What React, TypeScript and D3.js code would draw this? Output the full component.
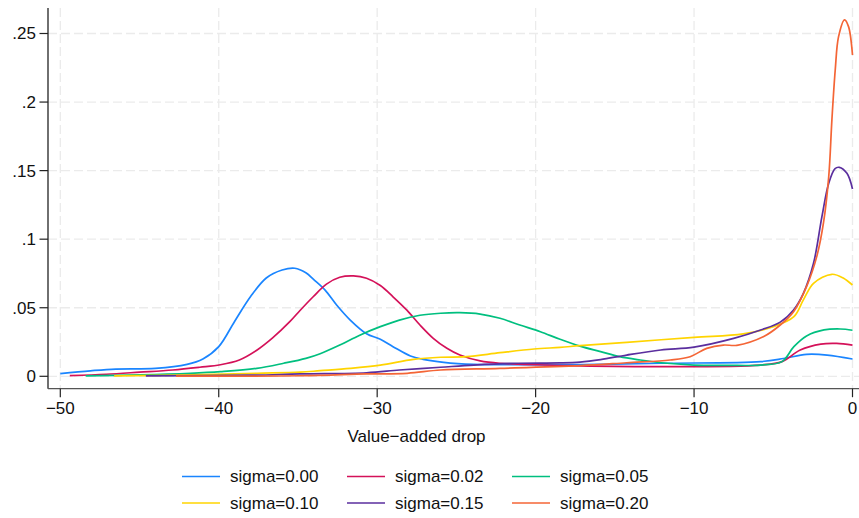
import React from 'react';
import * as d3 from 'd3';

// kernel density estimates of the value-added drop, one per sigma
const blue: [number, number][] = [[-50,0.002],[-48.1,0.004],[-46.5,0.0053],[-44,0.0058],[-42,0.0087],[-41,0.0126],[-40,0.0216],[-39,0.040],[-38,0.058],[-37,0.0717],[-36,0.0775],[-35.2,0.0788],[-34.5,0.0755],[-34,0.0705],[-33.3,0.063],[-32.56,0.052],[-31.7,0.041],[-30.67,0.031],[-29.8,0.027],[-29,0.0216],[-27.9,0.0148],[-27.1,0.0124],[-25.8,0.0102],[-23.9,0.0087],[-22.2,0.0085],[-17,0.0085],[-12.1,0.0095],[-5.8,0.0107],[-4.35,0.013],[-2.9,0.016],[-1.6,0.0155],[0,0.0126]];
const red: [number, number][] = [[-49.4,0.0005],[-47.1,0.0015],[-45,0.003],[-42.9,0.0046],[-41.2,0.0066],[-39.9,0.0084],[-38.7,0.0119],[-37.6,0.019],[-36.6,0.028],[-35.5,0.040],[-34.87,0.048],[-34.04,0.058],[-33.2,0.0672],[-32.36,0.0722],[-31.5,0.0732],[-30.67,0.0715],[-29.8,0.0662],[-29,0.058],[-28.14,0.0484],[-27.3,0.0374],[-26.46,0.0277],[-25.6,0.0204],[-24.78,0.0155],[-23.5,0.0112],[-22.25,0.0095],[-18,0.0078],[-12,0.007],[-5.8,0.0082],[-4.45,0.0107],[-3.3,0.0192],[-2,0.0235],[-1,0.024],[0,0.0228]];
const green: [number, number][] = [[-48.4,0.0003],[-45,0.001],[-41.8,0.0022],[-39.9,0.0034],[-37.6,0.0058],[-35.9,0.0095],[-34.5,0.0131],[-33.6,0.0165],[-32.36,0.0228],[-31.1,0.030],[-29.8,0.0362],[-28.6,0.041],[-27.3,0.0445],[-26,0.046],[-24.78,0.0464],[-23.5,0.0454],[-22.25,0.0423],[-21,0.0374],[-19.7,0.0325],[-18.5,0.0272],[-17.2,0.022],[-15.9,0.018],[-14.7,0.0143],[-13.4,0.0119],[-11.7,0.0095],[-10,0.0082],[-7.9,0.008],[-5.8,0.0082],[-4.45,0.0107],[-3.7,0.0216],[-2.9,0.0294],[-1.8,0.0338],[-0.77,0.0345],[0,0.0336]];
const yellow: [number, number][] = [[-46.6,0.0003],[-41.8,0.001],[-37.6,0.0022],[-34.87,0.003],[-33.6,0.0041],[-31.7,0.0058],[-29.8,0.0082],[-27.7,0.0124],[-26,0.0139],[-24.35,0.0143],[-22.25,0.0172],[-20.1,0.0199],[-18.46,0.0211],[-17.2,0.0223],[-14.25,0.0248],[-10,0.0284],[-6.9,0.0309],[-5,0.0362],[-3.7,0.0435],[-3.1,0.0557],[-2.46,0.0678],[-1.3,0.0744],[-0.56,0.0715],[0,0.0666]];
const purple: [number, number][] = [[-44.6,0.0003],[-38,0.0008],[-34.87,0.0017],[-30.67,0.0026],[-28.6,0.0046],[-26,0.0066],[-23.9,0.0082],[-21.4,0.0095],[-18.46,0.0098],[-17.2,0.0104],[-15.9,0.0122],[-14.25,0.0155],[-12.1,0.0192],[-10,0.0213],[-7.5,0.0277],[-5.8,0.0338],[-4.56,0.0395],[-3.72,0.0484],[-3.1,0.0605],[-2.46,0.0824],[-1.93,0.1164],[-1.5,0.1408],[-1.1,0.1515],[-0.83,0.1524],[-0.35,0.148],[0,0.1366]];
const orange: [number, number][] = [[-42.7,0.0002],[-34.87,0.0004],[-30.67,0.0017],[-28.1,0.0022],[-26,0.0046],[-22.25,0.0058],[-17.2,0.0078],[-14.25,0.0099],[-11.5,0.0119],[-10.25,0.0143],[-9.2,0.0204],[-8.15,0.0228],[-7.3,0.0226],[-5.6,0.029],[-4.56,0.0374],[-3.72,0.0471],[-2.9,0.0654],[-2.24,0.088],[-1.83,0.112],[-1.5,0.1456],[-1.3,0.187],[-1.09,0.2234],[-0.88,0.2477],[-0.5,0.26],[-0.25,0.255],[0,0.2343]];

const seriesLabels = ['sigma=0.00', 'sigma=0.02', 'sigma=0.05', 'sigma=0.10', 'sigma=0.15', 'sigma=0.20'];
const seriesData = [blue, red, green, yellow, purple, orange];
const colors = ['#1a85ff', '#d41159', '#00bf7f', '#ffd400', '#5a2e9e', '#f46536'];

const xTicks = [-50, -40, -30, -20, -10, 0];
const yTicks = [0, 0.05, 0.1, 0.15, 0.2, 0.25];
const yTickLabels = ['0', '.05', '.1', '.15', '.2', '.25'];
const xTitle = 'Value\u2212added drop';

const W = 859;
const H = 518;
const left = 48;
const right = 859;
const top = 8;
const bottom = 388.7;
const font = '"Liberation Sans", Arial, sans-serif';
const fs = 17;

const App = () => {
  const x = d3.scaleLinear().domain([-50, 0]).range([60.3, 852.5]);
  const y = d3.scaleLinear().domain([0, 0.25]).range([376.3, 33.5]);
  const line = d3.line<[number, number]>()
    .x(d => x(d[0]))
    .y(d => y(d[1]))
    .curve(d3.curveCatmullRom.alpha(0.5));

  const fmtX = (v: number) => (v < 0 ? '\u2212' + Math.abs(v) : String(v));

  return (
    <svg width={W} height={H} style={{ position: 'absolute', left: 0, top: 0, background: '#fff' }}
      fontFamily={font}>
      {/* grid */}
      {yTicks.map(t => (
        <line key={'gy' + t} x1={left} x2={right} y1={y(t)} y2={y(t)}
          stroke="#ebebeb" strokeWidth={1.3} strokeDasharray="9,4" />
      ))}
      {xTicks.map(t => (
        <line key={'gx' + t} x1={x(t)} x2={x(t)} y1={top} y2={bottom}
          stroke="#ebebeb" strokeWidth={1.3} strokeDasharray="9,4" />
      ))}

      {/* curves */}
      {seriesData.map((d, i) => (
        <path key={'s' + i} d={line(d) || ''} fill="none" stroke={colors[i]} strokeWidth={1.7} />
      ))}

      {/* axes */}
      <line x1={left} x2={left} y1={top} y2={bottom} stroke="#222" strokeWidth={1.3} />
      <line x1={left} x2={right} y1={bottom} y2={bottom} stroke="#555" strokeWidth={1.3} />
      {yTicks.map((t, i) => (
        <g key={'ty' + t}>
          <line x1={left - 8.5} x2={left} y1={y(t)} y2={y(t)} stroke="#222" strokeWidth={1.2} />
          <text x={36} y={y(t)} dy="0.35em" textAnchor="end" fontSize={fs} fill="#111">{yTickLabels[i]}</text>
        </g>
      ))}
      {xTicks.map(t => (
        <g key={'tx' + t}>
          <line x1={x(t)} x2={x(t)} y1={bottom} y2={bottom + 8.5} stroke="#222" strokeWidth={1.2} />
          <text x={x(t)} y={414} textAnchor="middle" fontSize={fs} fill="#111">{fmtX(t)}</text>
        </g>
      ))}
      <text x={416.5} y={441.5} textAnchor="middle" fontSize={fs} fill="#111">{xTitle}</text>

      {/* legend */}
      {seriesLabels.map((lab, i) => {
        const col = i % 3;
        const row = Math.floor(i / 3);
        const lx = 182 + col * 165;
        const ly = 476.5 + row * 26.5;
        return (
          <g key={'l' + i}>
            <line x1={lx} x2={lx + 38} y1={ly} y2={ly} stroke={colors[i]} strokeWidth={1.7} />
            <text x={lx + 48} y={ly} dy="0.35em" fontSize={fs} fill="#111">{lab}</text>
          </g>
        );
      })}
    </svg>
  );
};

export default App;
